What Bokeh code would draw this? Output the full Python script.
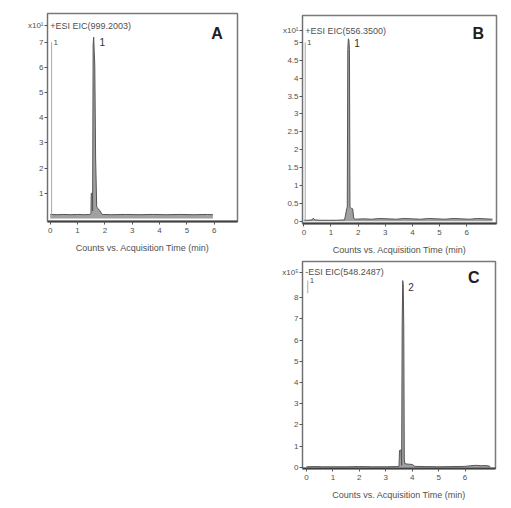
from bokeh.plotting import figure
from bokeh.layouts import row, column
from bokeh.models import Label, Range1d, FixedTicker, ColumnDataSource
from bokeh.embed import file_html
from bokeh.resources import INLINE

# ---------------- data ----------------
# Panel A : +ESI EIC(999.2003), counts x10^1
a_time = [0.00, 0.25, 0.50, 0.75, 1.00, 1.25, 1.45, 1.49, 1.50, 1.54, 1.55, 1.57,
          1.59, 1.61, 1.63, 1.66, 1.70, 1.75, 1.82, 1.90, 2.25, 2.75, 3.25, 3.75,
          4.25, 4.75, 5.25, 5.75, 5.95]
a_counts = [0.16, 0.15, 0.16, 0.15, 0.16, 0.15, 0.16, 0.20, 1.00, 1.00, 0.30, 6.90,
            7.20, 6.60, 6.10, 2.40, 0.45, 0.40, 0.30, 0.16, 0.15, 0.16, 0.15, 0.16,
            0.15, 0.16, 0.15, 0.16, 0.15]
a_xticks = [0, 1, 2, 3, 4, 5, 6]
a_yticks = [1, 2, 3, 4, 5, 6, 7]
a_title = "+ESI EIC(999.2003)"
a_scale = "x10\u00b9"
a_peak = "1"
a_peak_time = 1.6
a_marker_time = 0.05
a_marker_span = (0.0, 7.0)

# Panel B : +ESI EIC(556.3500), counts x10^1
b_time = [0.00, 0.15, 0.30, 0.35, 0.40, 0.60, 0.90, 1.20, 1.50, 1.58, 1.60, 1.62,
          1.64, 1.66, 1.68, 1.70, 1.72, 1.76, 1.80, 1.84, 1.90, 2.20, 2.50, 2.80,
          3.10, 3.40, 3.70, 4.00, 4.30, 4.60, 4.90, 5.20, 5.50, 5.80, 6.10, 6.40,
          6.70, 6.95]
b_counts = [0.03, 0.03, 0.04, 0.09, 0.04, 0.03, 0.03, 0.03, 0.04, 0.35, 0.40, 4.80,
            5.10, 5.05, 4.80, 0.40, 0.38, 0.36, 0.35, 0.08, 0.06, 0.07, 0.06, 0.08,
            0.07, 0.06, 0.08, 0.07, 0.06, 0.08, 0.07, 0.06, 0.08, 0.07, 0.06, 0.08,
            0.07, 0.06]
b_xticks = [0, 1, 2, 3, 4, 5, 6]
b_yticks = [0, 0.5, 1, 1.5, 2, 2.5, 3, 3.5, 4, 4.5, 5]
b_title = "+ESI EIC(556.3500)"
b_scale = "x10\u00b9"
b_peak = "1"
b_peak_time = 1.66
b_marker_time = 0.05
b_marker_span = (0.0, 5.0)

# Panel C : -ESI EIC(548.2487), counts x10^5
c_time = [0.00, 0.30, 0.60, 1.00, 1.50, 2.00, 2.50, 3.00, 3.40, 3.50, 3.52, 3.58,
          3.60, 3.62, 3.64, 3.66, 3.68, 3.70, 3.72, 3.80, 3.90, 4.00, 4.10, 4.50,
          5.00, 5.50, 6.00, 6.20, 6.40, 6.60, 6.80, 6.95]
c_counts = [0.03, 0.04, 0.03, 0.03, 0.03, 0.04, 0.03, 0.03, 0.04, 0.05, 0.80, 0.82,
            0.10, 6.70, 8.80, 8.60, 6.70, 0.40, 0.18, 0.16, 0.15, 0.14, 0.05, 0.04,
            0.03, 0.04, 0.05, 0.08, 0.10, 0.08, 0.09, 0.05]
c_xticks = [0, 1, 2, 3, 4, 5, 6]
c_yticks = [0, 1, 2, 3, 4, 5, 6, 7, 8]
c_title = "-ESI EIC(548.2487)"
c_scale = "x10\u2075"
c_peak = "2"
c_peak_time = 3.65
c_marker_time = 0.05
c_marker_span = (8.2, 8.8)

x_label = "Counts vs. Acquisition Time (min)"

FONT = "Liberation Sans"
TXT = "#505050"


def panel(letter, time, counts, xticks, yticks, title, scale, peak, peak_time,
          marker_time, marker_span, xr, yr, fw, fh, bl, br, bt, bb,
          title_y, letter_xy, peak_y):
    p = figure(frame_width=fw, frame_height=fh, x_range=Range1d(*xr),
               y_range=Range1d(*yr), output_backend="svg", toolbar_location=None,
               min_border_left=bl, min_border_right=br, min_border_top=bt,
               min_border_bottom=bb, background_fill_color="white",
               border_fill_color="white")
    p.outline_line_color = "#7a7a7a"
    p.outline_line_width = 1.5
    p.grid.visible = False
    for ax in (p.xaxis[0], p.yaxis[0]):
        ax.major_label_text_font = FONT
        ax.major_label_text_font_size = "8px"
        ax.major_label_text_color = TXT
        ax.minor_tick_line_color = None
        ax.major_tick_in = 0
        ax.major_tick_out = 3
        ax.major_tick_line_color = "#555555"
        ax.major_label_standoff = 1
    p.xaxis.major_label_standoff = 3
    p.xaxis.ticker = FixedTicker(ticks=xticks)
    # scale factor shown as an extra label on the y axis, level with the title
    p.yaxis.ticker = FixedTicker(ticks=list(yticks) + [title_y])
    p.yaxis.major_label_overrides = {title_y: scale}
    p.xaxis.axis_line_color = "#404040"
    p.xaxis.axis_line_width = 2
    p.yaxis.axis_line_color = "#707070"
    p.xaxis.axis_label = x_label
    p.xaxis.axis_label_text_font = FONT
    p.xaxis.axis_label_text_font_size = "9px"
    p.xaxis.axis_label_text_font_style = "normal"
    p.xaxis.axis_label_text_color = TXT
    p.xaxis.axis_label_standoff = 7

    src = ColumnDataSource(dict(t=time, c=counts))
    p.varea(x="t", y1=0, y2="c", source=src, fill_color="#a0a0a0")
    p.line(x="t", y="c", source=src, line_color="#555555", line_width=1)

    # spectrum marker
    p.segment(x0=[marker_time], y0=[marker_span[0]], x1=[marker_time],
              y1=[marker_span[1]], line_color="#a8a8a8", line_width=1)
    p.add_layout(Label(x=marker_time + 0.07, y=marker_span[1], text="1",
                       text_font=FONT, text_font_size="8px", text_color=TXT,
                       text_baseline="middle"))
    # title
    p.add_layout(Label(x=xr[0] + 0.1, y=title_y, text=title, text_font=FONT,
                       text_font_size="9px", text_color=TXT,
                       text_baseline="middle"))
    # panel letter
    p.add_layout(Label(x=letter_xy[0], y=letter_xy[1], text=letter, text_font=FONT,
                       text_font_size="16px", text_font_style="bold",
                       text_color="#202020", text_align="center",
                       text_baseline="middle"))
    # peak label
    p.add_layout(Label(x=peak_time + 0.2, y=peak_y, text=peak, text_font=FONT,
                       text_font_size="10px", text_color="#303030",
                       text_baseline="middle"))
    return p


pa = panel("A", a_time, a_counts, a_xticks, a_yticks, a_title, a_scale, a_peak,
           a_peak_time, a_marker_time, a_marker_span,
           (-0.1, 6.85), (-0.12, 8.14), 190, 208, 47, 25, 13, 41,
           7.66, (6.1, 7.34), 7.0)
pb = panel("B", b_time, b_counts, b_xticks, b_yticks, b_title, b_scale, b_peak,
           b_peak_time, b_marker_time, b_marker_span,
           (-0.05, 7.1), (-0.06, 5.75), 194, 208, 40, 7, 15, 31,
           5.33, (6.43, 5.25), 4.97)
pc = panel("C", c_time, c_counts, c_xticks, c_yticks, c_title, c_scale, c_peak,
           c_peak_time, c_marker_time, c_marker_span,
           (-0.15, 7.15), (-0.05, 9.7), 193, 207, 40, 8, 4, 32,
           9.2, (6.33, 8.96), 8.5)

layout = row(pa, column(pb, pc))
open("out.html", "w").write(file_html(layout, INLINE))
